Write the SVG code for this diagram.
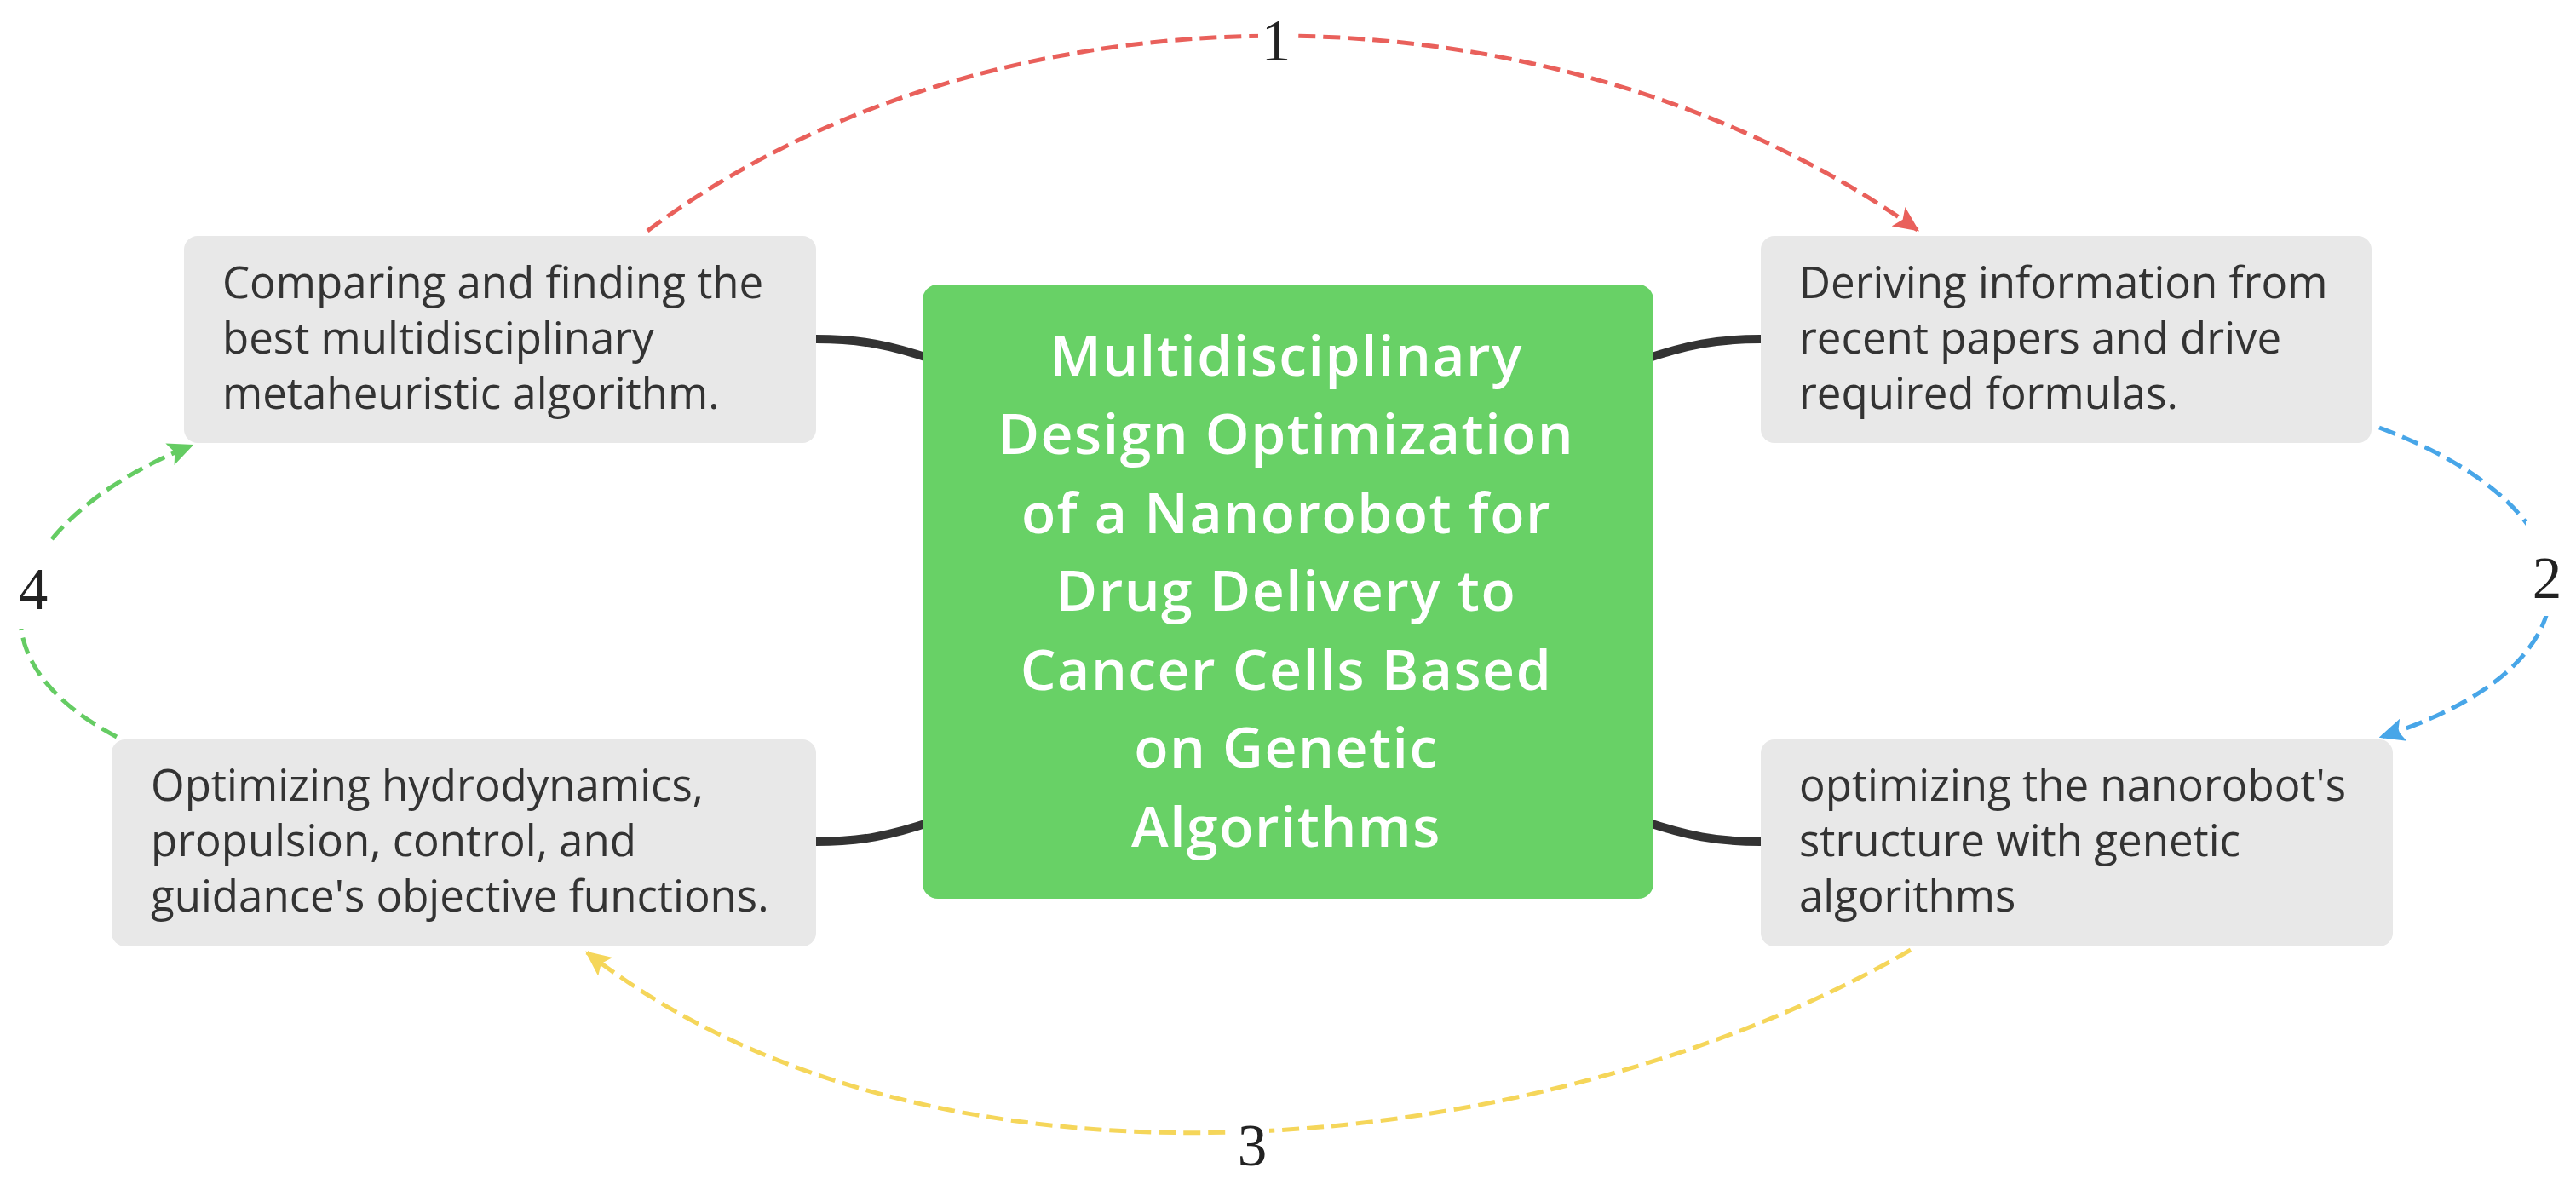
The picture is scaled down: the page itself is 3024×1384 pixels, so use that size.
<svg xmlns="http://www.w3.org/2000/svg" width="3024" height="1384" viewBox="0 0 3024 1384">
<style>
.box{fill:#E8E8E8}
.btxt{font-family:"Open Sans","Liberation Sans",sans-serif;font-size:51px;fill:#333333}
.ttl{font-family:"Open Sans","Liberation Sans",sans-serif;font-size:66px;font-weight:600;fill:#FFFFFF;text-anchor:middle;letter-spacing:1.5px}
.link{fill:none;stroke:#333333;stroke-width:10}
.dash{fill:none;stroke-width:5;stroke-dasharray:20 9}
.num{font-family:"Liberation Serif",serif;font-size:69px;fill:#222222;text-anchor:middle}
.lbg{fill:#FFFFFF}
</style>
<defs>
<marker id="arR" markerUnits="userSpaceOnUse" markerWidth="30" markerHeight="30" viewBox="0 0 24 22" refX="22" refY="11" orient="auto"><path d="M0,0 L24,11 L0,22 L5,11 Z" fill="#E9605B"/></marker>
<marker id="arB" markerUnits="userSpaceOnUse" markerWidth="30" markerHeight="30" viewBox="0 0 24 22" refX="22" refY="11" orient="auto"><path d="M0,0 L24,11 L0,22 L5,11 Z" fill="#48A6E8"/></marker>
<marker id="arY" markerUnits="userSpaceOnUse" markerWidth="30" markerHeight="30" viewBox="0 0 24 22" refX="22" refY="11" orient="auto"><path d="M0,0 L24,11 L0,22 L5,11 Z" fill="#F5D65A"/></marker>
<marker id="arG" markerUnits="userSpaceOnUse" markerWidth="30" markerHeight="30" viewBox="0 0 24 22" refX="22" refY="11" orient="auto"><path d="M0,0 L24,11 L0,22 L5,11 Z" fill="#65CC63"/></marker>
</defs>
<rect width="3024" height="1384" fill="#FFFFFF"/>
<g id="connectors">
<path class="link" d="M958,398 C1010,398 1045,405 1095,422"/>
<path class="link" d="M2067,398 C2015,398 1980,405 1930,422"/>
<path class="link" d="M958,988 C1010,988 1045,981 1095,964"/>
<path class="link" d="M2067,988 C2015,988 1980,981 1930,964"/>
<path class="dash" stroke="#E9605B" d="M760,271 C1170,-34 1820,-34 2251,270" marker-end="url(#arR)"/>
<path class="dash" stroke="#48A6E8" d="M2793,502 C3060,602 3062,781 2795,865" marker-end="url(#arB)"/>
<path class="dash" stroke="#F5D65A" d="M2243,1115 C1828,1356 1104,1442 689,1118" marker-end="url(#arY)"/>
<path class="dash" stroke="#65CC63" d="M137,865 C-63,759 25,603 225,523" marker-end="url(#arG)"/>
</g>
<g id="labels">
<rect class="lbg" x="1477" y="0" width="43" height="100"/>
<text class="num" x="1498" y="71">1</text>
<rect class="lbg" x="2965" y="612" width="50" height="111"/>
<text class="num" x="2990" y="702">2</text>
<rect class="lbg" x="1443" y="1290" width="47" height="94"/>
<text class="num" x="1470" y="1368">3</text>
<rect class="lbg" x="15" y="637" width="48" height="101"/>
<text class="num" x="39" y="715">4</text>
</g>
<g id="center">
<rect x="1083" y="334" width="858" height="721" rx="18" fill="#68D166"/>
<text class="ttl"><tspan x="1510" y="441">Multidisciplinary</tspan><tspan x="1510" y="533">Design Optimization</tspan><tspan x="1510" y="626">of a Nanorobot for</tspan><tspan x="1510" y="717">Drug Delivery to</tspan><tspan x="1510" y="810">Cancer Cells Based</tspan><tspan x="1510" y="901">on Genetic</tspan><tspan x="1510" y="994">Algorithms</tspan></text>
</g>
<g id="node-compare">
<rect class="box" x="216" y="277" width="742" height="243" rx="16"/>
<text class="btxt"><tspan x="261" y="350">Comparing and finding the</tspan><tspan x="261" y="415">best multidisciplinary</tspan><tspan x="261" y="480">metaheuristic algorithm.</tspan></text>
</g>
<g id="node-derive">
<rect class="box" x="2067" y="277" width="717" height="243" rx="16"/>
<text class="btxt"><tspan x="2112" y="350">Deriving information from</tspan><tspan x="2112" y="415">recent papers and drive</tspan><tspan x="2112" y="480">required formulas.</tspan></text>
</g>
<g id="node-optimize-structure">
<rect class="box" x="2067" y="868" width="742" height="243" rx="16"/>
<text class="btxt"><tspan x="2112" y="940">optimizing the nanorobot's</tspan><tspan x="2112" y="1005">structure with genetic</tspan><tspan x="2112" y="1070">algorithms</tspan></text>
</g>
<g id="node-optimize-hydro">
<rect class="box" x="131" y="868" width="827" height="243" rx="16"/>
<text class="btxt"><tspan x="177" y="940">Optimizing hydrodynamics,</tspan><tspan x="177" y="1005">propulsion, control, and</tspan><tspan x="177" y="1070">guidance's objective functions.</tspan></text>
</g>
</svg>
